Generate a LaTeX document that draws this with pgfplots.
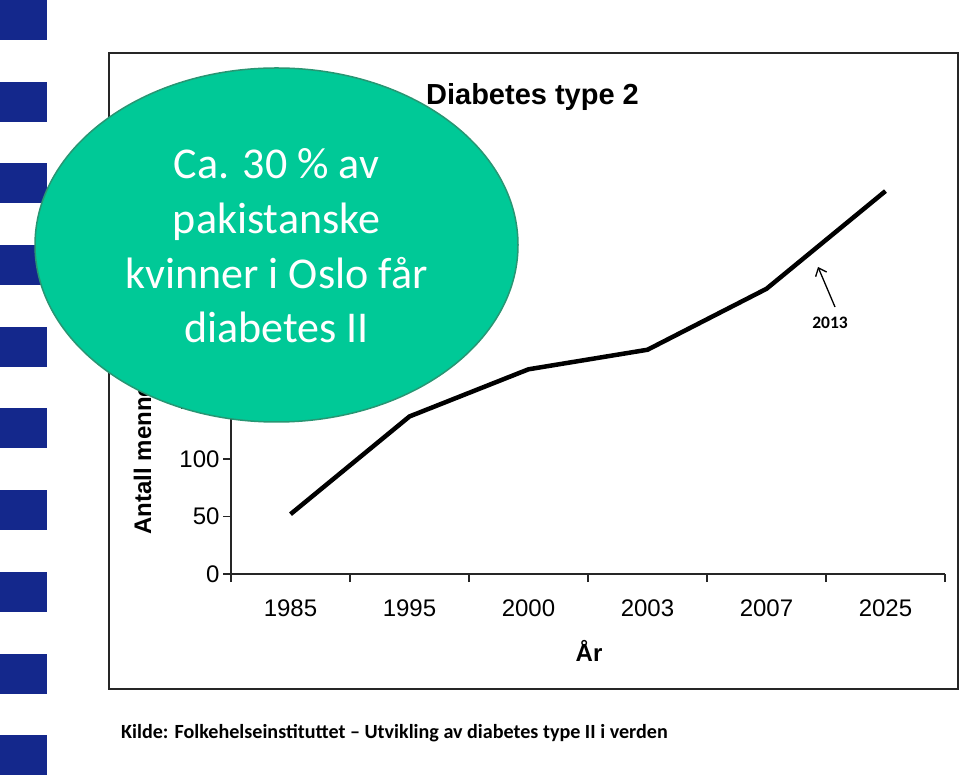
\documentclass[border=0pt]{standalone}
\usepackage{pgfplots}
\pgfplotsset{compat=1.18}
\usepackage{fontspec}
\setmainfont{Liberation Sans}
\newfontfamily\calibri{Carlito}
\usetikzlibrary{arrows.meta}
\definecolor{blueblk}{RGB}{20,40,140}
\definecolor{ellfill}{RGB}{0,201,151}
\definecolor{elldraw}{RGB}{40,150,115}
\begin{document}
\begin{tikzpicture}[x=1pt,y=1pt]
\useasboundingbox (0,0) rectangle (960,776);
\foreach \k in {0,...,9}{\fill[blueblk] (0,{776-\k*81.7}) rectangle (46.7,{736-\k*81.7});}
\draw[line width=1.6pt,black!85] (109,723) rectangle (958,87);
\begin{axis}[
 at={(231pt,202pt)}, anchor=south west,
 scale only axis, width=714pt, height=402.5pt,
 xmin=-0.5, xmax=5.5, ymin=0, ymax=350,
 axis x line=bottom, axis y line=left,
 axis line style={-, line width=1.2pt, black!85},
 xtick={-0.5,0.5,...,5.5},
 x tick label as interval,
 xticklabels={1985,1995,2000,2003,2007,2025},
 ytick={0,50,...,350},
 tick align=outside,
 major tick length=8pt,
 tick style={line width=1.2pt, black!85},
 /pgf/number format/assume math mode=true,
 ticklabel style={font=\fontsize{24}{24}\selectfont},
 xticklabel style={yshift=-14pt},
 clip=false,
]
\addplot[line width=4.5pt, black, line join=round] coordinates {
 (0,52) (1,137) (2,178) (3,195) (4,248) (5,333)
};
\end{axis}
\node[anchor=base, inner sep=0, font=\bfseries\fontsize{29}{29}\selectfont] at (532.5,671.7) {Diabetes type 2};
\node[font=\bfseries\fontsize{24}{24}\selectfont] at (589,125) {År};
\node[rotate=90, anchor=west, font=\bfseries\fontsize{24}{24}\selectfont] at (145,238) {Antall mennesker (millioner)};
\draw[line width=1.3pt, -{Straight Barb[length=7pt,width=12pt]}] (835,469) -- (818,509);
\node[font=\calibri\bfseries\fontsize{17.5}{17.5}\selectfont] at (830,453) {2013};
\filldraw[fill=ellfill, draw=elldraw, line width=1.5pt] (276.5,531) ellipse [x radius=241.5, y radius=177];
\begin{scope}[every node/.style={anchor=base, text=white, font=\calibri\fontsize{44}{44}\selectfont}]
\node at (276.5,597) {Ca. 30 \% av};
\node at (276.5,542.3) {pakistanske};
\node at (276.5,487) {kvinner i Oslo får};
\node at (276.5,433) {diabetes II};
\end{scope}
\node[anchor=base west, inner sep=0, font=\calibri\bfseries\fontsize{20.1}{20.1}\selectfont] at (121,38) {Kilde: Folkehelseinstituttet – Utvikling av diabetes type II i verden};
\end{tikzpicture}
\end{document}
